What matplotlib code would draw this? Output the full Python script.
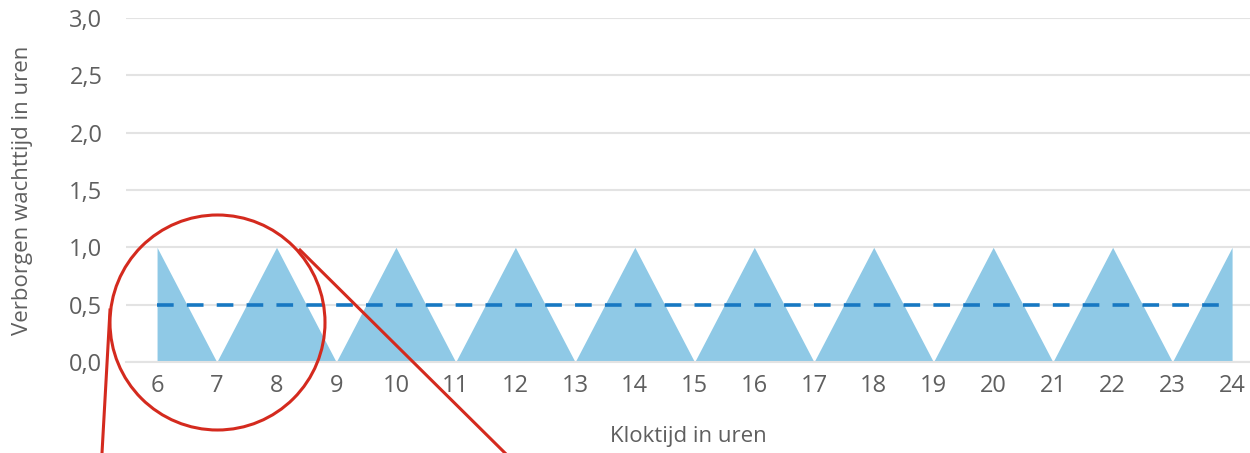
import matplotlib
matplotlib.use("Agg")
import numpy as np
from matplotlib import pyplot as plt
from matplotlib.patches import Circle
from matplotlib.lines import Line2D

# Data
uren = [6, 7, 8, 9, 10, 11, 12, 13, 14, 15, 16, 17, 18, 19, 20, 21, 22, 23, 24]
wachttijd = [1, 0, 1, 0, 1, 0, 1, 0, 1, 0, 1, 0, 1, 0, 1, 0, 1, 0, 1]
gemiddelde = [0.5, 0.5]
gemiddelde_x = [6, 24]
y_ticks = [0.0, 0.5, 1.0, 1.5, 2.0, 2.5, 3.0]

plt.rcParams['font.family'] = ['Open Sans', 'DejaVu Sans']
plt.rcParams['lines.scale_dashes'] = False

tekst_kleur = '#5f5f5f'
grid_kleur = '#e3e3e3'

fig = plt.figure(figsize=(12.5, 4.53), dpi=100)
ax = fig.add_axes([0.1008, 0.2009, 0.8992, 0.7594])

# Driehoeken
ax.fill_between(uren, wachttijd, 0, color='#8fc9e6', linewidth=0, zorder=2)
# Gemiddelde
ax.plot(gemiddelde_x, gemiddelde, color='#1778c2', linewidth=2.6,
        dashes=[12, 9.5], zorder=3)

ax.set_xlim(5.48, 24.3)
ax.set_ylim(0, 3.0)
ax.set_xticks(uren)
ax.set_xticklabels([str(u) for u in uren])
ax.set_yticks(y_ticks)
ax.set_yticklabels([f"{t:.1f}".replace('.', ',') for t in y_ticks])

ax.grid(axis='y', color=grid_kleur, linewidth=1.5, zorder=1)
ax.set_axisbelow(True)
for s in ['top', 'right', 'left']:
    ax.spines[s].set_visible(False)
ax.spines['bottom'].set_color(grid_kleur)
ax.spines['bottom'].set_linewidth(1.5)
ax.tick_params(axis='both', length=0, labelsize=17, colors=tekst_kleur)
ax.tick_params(axis='y', pad=17)
ax.tick_params(axis='x', pad=9)

ax.set_xlabel('Kloktijd in uren', fontsize=16, color=tekst_kleur, labelpad=20)
ax.set_ylabel('Verborgen wachttijd in uren', fontsize=16, color=tekst_kleur,
              labelpad=26)

# Rode loep-markering (in inches van de figuur)
rood = '#d42a1e'
cirkel = Circle((2.175, 1.305), 1.075, fill=False, edgecolor=rood, linewidth=2.2,
                transform=fig.dpi_scale_trans, zorder=10)
fig.add_artist(cirkel)
fig.add_artist(Line2D([1.10, 1.02], [1.43, 0.0], color=rood, linewidth=2.2,
                      transform=fig.dpi_scale_trans))
fig.add_artist(Line2D([3.00, 5.05], [2.03, 0.0], color=rood, linewidth=2.2,
                      transform=fig.dpi_scale_trans))

fig.savefig('out.png', dpi=100)
